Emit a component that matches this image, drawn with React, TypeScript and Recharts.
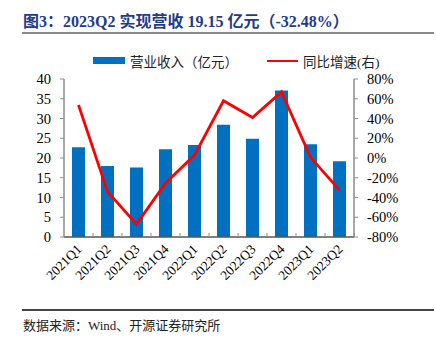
import React from "react";
import { ComposedChart, Bar, Line, XAxis, YAxis } from "recharts";

const quarters = ["2021Q1", "2021Q2", "2021Q3", "2021Q4", "2022Q1", "2022Q2", "2022Q3", "2022Q4", "2023Q1", "2023Q2"];
const revenue = [22.7, 18.0, 17.6, 22.2, 23.3, 28.4, 24.9, 37.1, 23.5, 19.15];
const yoy = [53.7, -34, -67, -25.6, 3, 58, 41, 67, 0.7, -32.48];
const leftTicks = [0, 5, 10, 15, 20, 25, 30, 35, 40];
const rightTicks = [-80, -60, -40, -20, 0, 20, 40, 60, 80];

const BLUE = "#0070C0";
const RED = "#FF0000";
const AXIS = "#8c8c8c";
const SERIF = "'Liberation Serif', 'Times New Roman', 'Noto Sans CJK SC', serif";

const data = quarters.map((q, i) => ({ q, revenue: revenue[i], yoy: yoy[i] }));

function QuarterTick(props: any) {
  const { x, y, payload } = props;
  const half = payload.offset || 0;
  return (
    <g>
      <line x1={x + half} x2={x + half} y1={y} y2={y - 4} stroke={AXIS} strokeWidth={1} />
      <text
        x={x + 4}
        y={y + 13}
        textAnchor="end"
        transform={`rotate(-45, ${x + 4}, ${y + 13})`}
        fontSize={13.5}
        fontFamily={SERIF}
        fill="#000"
      >
        {payload.value}
      </text>
    </g>
  );
}

export default function App() {
  return (
    <div style={{ position: "absolute", left: 0, top: 0, width: 436, height: 340, background: "#fff", fontFamily: SERIF }}>
      <div style={{ position: "absolute", left: 23, top: 8, fontSize: 16, fontWeight: "bold", color: "#1F3A8C", whiteSpace: "nowrap" }}>
        图3：2023Q2 实现营收 19.15 亿元（-32.48%）
      </div>
      <div style={{ position: "absolute", left: 22, top: 32, width: 412, height: 1.5, background: "#888" }} />

      <div style={{ position: "absolute", left: 0, top: 51, width: 436, height: 18, fontSize: 13.5, color: "#222" }}>
        <span style={{ position: "absolute", left: 93, top: 6, width: 32, height: 7, background: BLUE }} />
        <span style={{ position: "absolute", left: 130, top: 0, whiteSpace: "nowrap" }}>营业收入（亿元）</span>
        <span style={{ position: "absolute", left: 267, top: 8.5, width: 31, height: 2.5, background: RED }} />
        <span style={{ position: "absolute", left: 303, top: 0, whiteSpace: "nowrap" }}>同比增速(右)</span>
      </div>

      <div style={{ position: "absolute", left: 0, top: 0 }}>
        <ComposedChart width={436} height={300} data={data} margin={{ top: 79, right: 0, bottom: 13, left: 0 }}>
          <XAxis
            dataKey="q"
            height={50}
            tick={<QuarterTick />}
            tickLine={false}
            tickSize={0}
            tickMargin={0}
            axisLine={{ stroke: "#555", strokeWidth: 1.5 }}
            interval={0}
          />
          <YAxis
            yAxisId="left"
            width={64}
            domain={[0, 40]}
            ticks={leftTicks}
            interval={0}
            tick={{ fontSize: 14.5, fill: "#000", fontFamily: SERIF }}
            tickSize={4}
            tickMargin={9}
            tickLine={{ stroke: AXIS }}
            axisLine={{ stroke: AXIS, strokeWidth: 1.5 }}
          />
          <YAxis
            yAxisId="right"
            orientation="right"
            width={82}
            domain={[-80, 80]}
            ticks={rightTicks}
            interval={0}
            tickFormatter={(v: number) => `${v}%`}
            tick={{ fontSize: 14.5, fill: "#000", fontFamily: SERIF }}
            tickSize={4}
            tickMargin={9}
            tickLine={{ stroke: AXIS }}
            axisLine={{ stroke: AXIS, strokeWidth: 1.5 }}
          />
          <Bar yAxisId="left" dataKey="revenue" name="营业收入（亿元）" fill={BLUE} barSize={13} isAnimationActive={false} />
          <Line
            yAxisId="right"
            type="linear"
            dataKey="yoy"
            name="同比增速(右)"
            stroke={RED}
            strokeWidth={2.8}
            dot={false}
            activeDot={false}
            isAnimationActive={false}
          />
        </ComposedChart>
      </div>

      <div style={{ position: "absolute", left: 22, top: 309, width: 412, height: 1.5, background: "#444" }} />
      <div style={{ position: "absolute", left: 23, top: 315, fontSize: 13, color: "#222", whiteSpace: "nowrap" }}>
        数据来源：Wind、开源证券研究所
      </div>
    </div>
  );
}
